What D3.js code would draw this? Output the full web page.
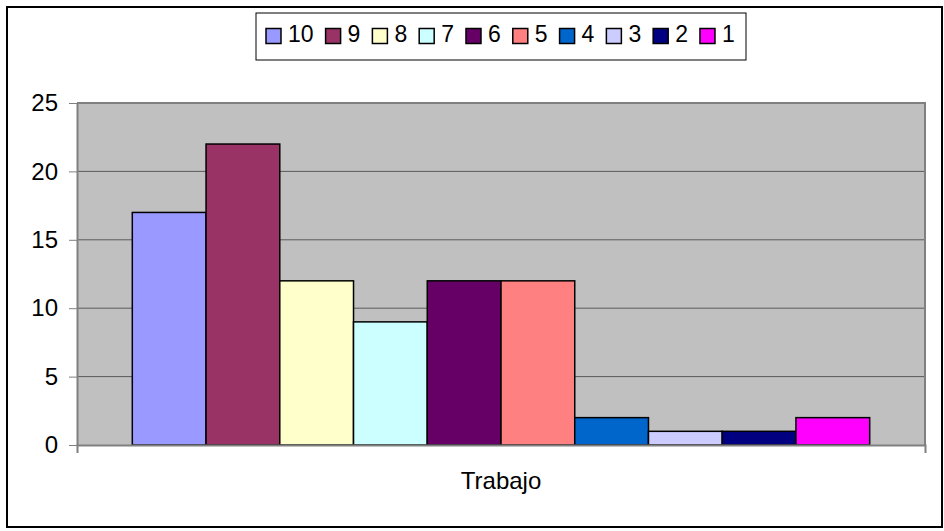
<!DOCTYPE html>
<html lang="es">
<head>
<meta charset="UTF-8" />
<title>Trabajo</title>
<script src="https://d3js.org/d3.v7.min.js"></script>
<style>
  body { margin: 0; background: #fff; }
  text { font-family: "Liberation Sans", Arial, sans-serif; fill: #000; }
</style>
</head>
<body>
<svg width="944" height="531"></svg>
<script>
// data
var categories = ["Trabajo"];
var seriesNames = ["10", "9", "8", "7", "6", "5", "4", "3", "2", "1"];
var seriesValues = [17, 22, 12, 9, 12, 12, 2, 1, 1, 2];
var seriesColors = ["#9999FF", "#993366", "#FFFFCC", "#CCFFFF", "#660066",
                    "#FF8080", "#0066CC", "#CCCCFF", "#000080", "#FF00FF"];
var yTicks = [0, 5, 10, 15, 20, 25];

var svg = d3.select("svg");

// outer frame
svg.append("rect")
   .attr("x", 7).attr("y", 7)
   .attr("width", 935).attr("height", 520)
   .attr("fill", "#fff")
   .attr("stroke", "#000")
   .attr("stroke-width", 2);

var plotLeft = 77, plotRight = 925, plotTop = 103, plotBottom = 445;

var x0 = d3.scaleBand().domain(categories).range([plotLeft, plotRight]);
var x1 = d3.scaleBand().domain(seriesNames)
           .range([0, x0.bandwidth()])
           .paddingInner(0).paddingOuter(0.75);
var y = d3.scaleLinear().domain([0, 25]).range([plotBottom, plotTop]);

// plot background
svg.append("rect")
   .attr("x", plotLeft).attr("y", plotTop)
   .attr("width", plotRight - plotLeft).attr("height", plotBottom - plotTop)
   .attr("fill", "#C0C0C0");

// gridlines
svg.append("g")
   .selectAll("line")
   .data(yTicks.slice(1))
   .enter().append("line")
   .attr("x1", plotLeft).attr("x2", plotRight)
   .attr("y1", function(d) { return y(d); })
   .attr("y2", function(d) { return y(d); })
   .attr("stroke", "#5a5a5a")
   .attr("stroke-width", 1);

// plot border (top/right)
svg.append("path")
   .attr("d", "M" + plotLeft + "," + plotTop + "H" + plotRight + "V" + plotBottom)
   .attr("fill", "none")
   .attr("stroke", "#808080")
   .attr("stroke-width", 2);

// bars
var bars = svg.append("g");
bars.selectAll("rect")
    .data(seriesNames)
    .enter().append("rect")
    .attr("x", function(d) { return x0("Trabajo") + x1(d); })
    .attr("y", function(d, i) { return y(seriesValues[i]); })
    .attr("width", x1.bandwidth())
    .attr("height", function(d, i) { return plotBottom - y(seriesValues[i]); })
    .attr("fill", function(d, i) { return seriesColors[i]; })
    .attr("stroke", "#000")
    .attr("stroke-width", 1.5);

// y axis
var yAxis = svg.append("g")
   .attr("transform", "translate(" + plotLeft + ",0)")
   .call(d3.axisLeft(y).tickValues(yTicks).tickSize(8).tickPadding(11).tickSizeOuter(0));
yAxis.select(".domain").attr("stroke", "#808080").attr("stroke-width", 2);
yAxis.selectAll(".tick line").attr("stroke", "#808080").attr("stroke-width", 1);
yAxis.selectAll(".tick text")
     .attr("font-size", "24px")
     .attr("font-family", "Liberation Sans, Arial, sans-serif")
     .attr("fill", "#000");

// x axis
var xAxis = svg.append("g")
   .attr("transform", "translate(0," + plotBottom + ")")
   .call(d3.axisBottom(x0).tickSize(0).tickPadding(27).tickSizeOuter(8));
xAxis.select(".domain").attr("stroke", "#808080").attr("stroke-width", 2);
xAxis.selectAll(".tick text")
     .attr("font-size", "24px")
     .attr("font-family", "Liberation Sans, Arial, sans-serif")
     .attr("fill", "#000");

// legend
var legend = svg.append("g");
legend.append("rect")
   .attr("x", 256).attr("y", 13)
   .attr("width", 490).attr("height", 47)
   .attr("fill", "#fff")
   .attr("stroke", "#000")
   .attr("stroke-width", 1);

var lx = 266;
seriesNames.forEach(function(name, i) {
  legend.append("rect")
        .attr("x", lx).attr("y", 28.5)
        .attr("width", 15).attr("height", 15)
        .attr("fill", seriesColors[i])
        .attr("stroke", "#000")
        .attr("stroke-width", 1.5);
  var t = legend.append("text")
        .attr("x", lx + 22).attr("y", 42)
        .attr("font-size", "23px")
        .text(name);
  lx += 22 + t.node().getComputedTextLength() + 12;
});
</script>
</body>
</html>
